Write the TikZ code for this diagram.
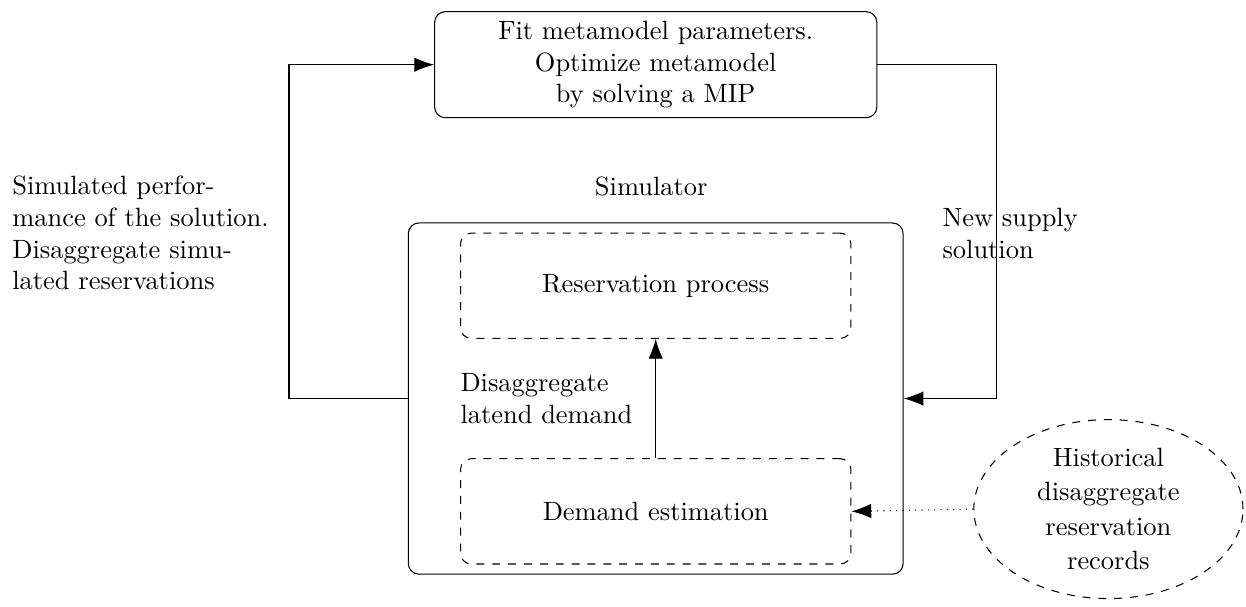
\documentclass[tikz,border=0pt]{standalone}
\usetikzlibrary{arrows.meta,shapes.geometric}

\tikzset{
    box/.style={rectangle, draw, rounded corners},
    subbox/.style={rectangle, draw, dashed, rounded corners, minimum width=5.19cm, minimum height=1.4cm},
    >={Latex[length=7.5pt, width=5.5pt]}
}

\begin{document}
\begin{tikzpicture}
        \useasboundingbox (0, 0) rectangle (16.57, -8.07);
        \node[box, align=center, minimum width=5.88cm, minimum height=1.41cm] (metamodel) at (8.72, -0.86) {Fit metamodel parameters.\\Optimize metamodel\\by solving a MIP};
        \node[box, minimum width=6.58cm, minimum height=4.67cm] (simulator) at (8.72, -5.30) {};
        \node (simlabel) at (8.66, -2.48) [] {Simulator};
        \node[subbox] (reservation) at (8.72, -3.80) {Reservation process};
        \node[subbox] (demand) at (8.72, -6.80) {Demand estimation};
        \node[anchor=west, align=left] (latent) at (6.0, -5.30) {Disaggregate\\latend demand};
        \node[ellipse, draw, dashed, inner sep=0pt, minimum width=3.58cm, minimum height=2.38cm, align=center] (records) at (14.74, -6.77) {Historical\\[1pt]disaggregate\\[1pt]reservation\\[1pt]records};
        \node[anchor=west, align=left] (performance) at (0.04, -3.10) {Simulated perfor-\\mance of the solution.\\Disaggregate simu-\\lated reservations};
        \node[anchor=west, align=left] (supply) at (12.41, -3.10) {New supply\\solution};
        \draw[->] (simulator.west) -- ++(-1.58, 0) |- (metamodel.west);
        \draw[->] (metamodel.east) -| ++(1.59, -4.44) -- (simulator.east);
        \draw[->] (demand) -- (reservation);
        \draw[->, dotted] (records.west) -- (demand.east);
    \end{tikzpicture}
\end{document}
